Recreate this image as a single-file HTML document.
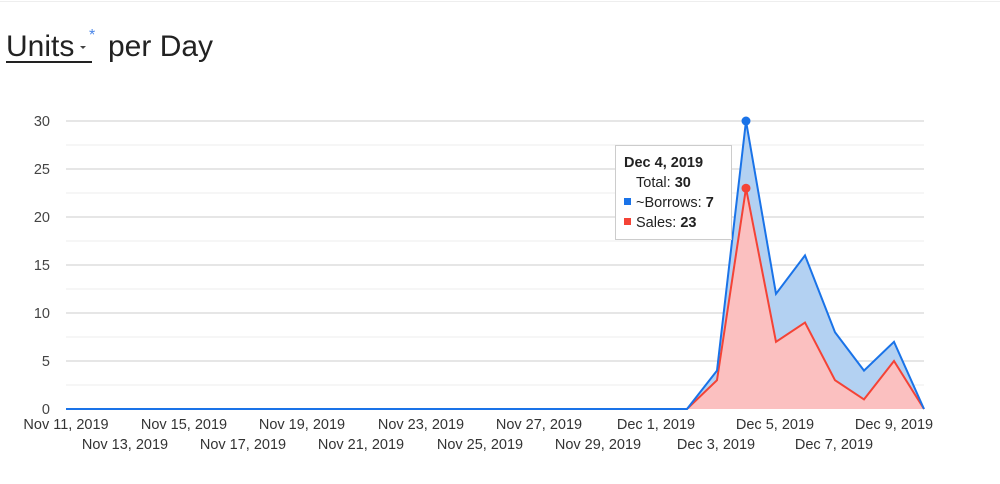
<!DOCTYPE html>
<html><head><style>
body{margin:0;background:#fff;width:1000px;height:479px;overflow:hidden;font-family:"Liberation Sans",Arial,sans-serif;}
</style></head><body>
<svg width="1000" height="479" xmlns="http://www.w3.org/2000/svg" font-family="Liberation Sans, Arial, sans-serif">
<line x1="0" y1="1.5" x2="1000" y2="1.5" stroke="#eee"/>
<text x="6" y="56" font-size="30" fill="#222">Units</text>
<path d="M80 46 l3 3 l3 -3z" fill="#444"/>
<text x="89" y="40" font-size="16" fill="#4a86e8">*</text>
<text x="108" y="56" font-size="30" fill="#222">per Day</text>
<line x1="6" y1="62" x2="92" y2="62" stroke="#222" stroke-width="2"/>
<g stroke="#ececec">
<line x1="66" y1="385" x2="924" y2="385"/><line x1="66" y1="337" x2="924" y2="337"/><line x1="66" y1="289" x2="924" y2="289"/><line x1="66" y1="241" x2="924" y2="241"/><line x1="66" y1="193" x2="924" y2="193"/><line x1="66" y1="145" x2="924" y2="145"/>
</g>
<g stroke="#ccc">
<line x1="66" y1="361" x2="924" y2="361"/><line x1="66" y1="313" x2="924" y2="313"/><line x1="66" y1="265" x2="924" y2="265"/><line x1="66" y1="217" x2="924" y2="217"/><line x1="66" y1="169" x2="924" y2="169"/><line x1="66" y1="121" x2="924" y2="121"/>
</g>
<g font-size="14.5" fill="#444" text-anchor="end">
<text x="50" y="414">0</text><text x="50" y="366">5</text><text x="50" y="318">10</text><text x="50" y="270">15</text><text x="50" y="222">20</text><text x="50" y="174">25</text><text x="50" y="126">30</text>
</g>
<polygon points="66,409 687,409 717,370.6 746,121 776,293.8 805,255.4 835,332.2 864,370.6 894,341.8 924,409" fill="#b3d1f2"/>
<polygon points="687,409 717,380.2 746,188.2 776,341.8 805,322.6 835,380.2 864,399.4 894,361 924,409" fill="#fbc0c0"/>
<polyline points="66,409 687,409 717,380.2 746,188.2 776,341.8 805,322.6 835,380.2 864,399.4 894,361 924,409" fill="none" stroke="#f44336" stroke-width="2"/>
<polyline points="66,409 687,409 717,370.6 746,121 776,293.8 805,255.4 835,332.2 864,370.6 894,341.8 924,409" fill="none" stroke="#1a73e8" stroke-width="2"/>
<circle cx="746" cy="121" r="4.5" fill="#1a73e8"/>
<circle cx="746" cy="188.2" r="4.5" fill="#f44336"/>
<g font-size="14.5" fill="#333" text-anchor="middle">
<text x="66" y="429">Nov 11, 2019</text><text x="184" y="429">Nov 15, 2019</text><text x="302" y="429">Nov 19, 2019</text><text x="421" y="429">Nov 23, 2019</text><text x="539" y="429">Nov 27, 2019</text><text x="656" y="429">Dec 1, 2019</text><text x="775" y="429">Dec 5, 2019</text><text x="894" y="429">Dec 9, 2019</text>
<text x="125" y="449">Nov 13, 2019</text><text x="243" y="449">Nov 17, 2019</text><text x="361" y="449">Nov 21, 2019</text><text x="480" y="449">Nov 25, 2019</text><text x="598" y="449">Nov 29, 2019</text><text x="716" y="449">Dec 3, 2019</text><text x="834" y="449">Dec 7, 2019</text>
</g>
<rect x="615.5" y="145.5" width="116" height="94" fill="#fff" stroke="#ccc"/>
<text x="624" y="167" font-size="14.5" font-weight="bold" fill="#222">Dec 4, 2019</text>
<text x="636" y="187" font-size="14.5" fill="#222">Total: <tspan font-weight="bold">30</tspan></text>
<rect x="624" y="198" width="7" height="7" fill="#1a73e8"/>
<text x="636" y="207" font-size="14.5" fill="#222">~Borrows: <tspan font-weight="bold">7</tspan></text>
<rect x="624" y="218" width="7" height="7" fill="#f44336"/>
<text x="636" y="227" font-size="14.5" fill="#222">Sales: <tspan font-weight="bold">23</tspan></text>
</svg>
</body></html>
